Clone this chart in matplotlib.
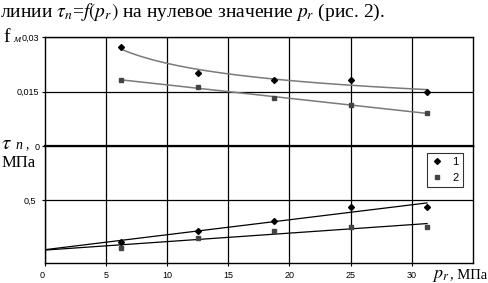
import numpy as np
import matplotlib
matplotlib.use("Agg")
from matplotlib import pyplot as plt

plt.rcParams['font.family'] = ['Liberation Sans', 'DejaVu Sans']
plt.rcParams['mathtext.fontset'] = 'stix'

# pressure p_r, MPa
p_r = [6.25, 12.5, 18.75, 25.0, 31.25]
# friction coefficient f_m
f_m_1 = [0.0272, 0.0201, 0.0182, 0.0182, 0.0149]
f_m_2 = [0.0182, 0.0162, 0.0132, 0.0113, 0.0091]
# shear stress tau_n, MPa
tau_1 = [0.167, 0.254, 0.333, 0.444, 0.444]
tau_2 = [0.119, 0.198, 0.254, 0.286, 0.286]

x_ticks = [0, 5, 10, 15, 20, 25, 30]
series_names = ['1', '2']

fig = plt.figure(figsize=(4.88, 2.83), dpi=100)
ax1 = fig.add_axes([0.092, 0.484, 0.877, 0.385])
ax2 = fig.add_axes([0.092, 0.071, 0.877, 0.413])

x = np.array(p_r)

# ---- top panel: f_m ----
# power trend for series 1, linear trend for series 2
b, lna = np.polyfit(np.log(x), np.log(f_m_1), 1)
xs = np.linspace(x[0], x[-1], 100)
ax1.plot(xs, np.exp(lna) * xs ** b, color='#7a7a7a', lw=1.1, zorder=2)
k, c = np.polyfit(x, f_m_2, 1)
ax1.plot(xs, k * xs + c, color='#7a7a7a', lw=1.1, zorder=2)
ax1.plot(p_r, f_m_1, 'D', color='black', ms=3, zorder=3)
ax1.plot(p_r, f_m_2, 's', color='#444444', ms=3.5, zorder=3)
ax1.set_xlim(0, 35)
ax1.set_ylim(0, 0.03)
ax1.set_yticks([0, 0.015, 0.03])
ax1.set_yticklabels(['0', '0,015', '0,03'])
ax1.set_xticks(x_ticks[1:])
ax1.tick_params(labelbottom=False, length=2, labelsize=6.5, pad=2)
ax1.grid(True, color='black', lw=0.9)

# ---- bottom panel: tau_n ----
xl = np.linspace(0, x[-1], 100)
k1, c1 = np.polyfit(x, tau_1, 1)
k2, c2 = np.polyfit(x, tau_2, 1)
ax2.plot(xl, k1 * xl + c1, color='black', lw=0.9, zorder=2)
ax2.plot(xl, k2 * xl + c2, color='black', lw=0.9, zorder=2)
ax2.plot(p_r, tau_1, 'D', color='black', ms=3, zorder=3, label=series_names[0])
ax2.plot(p_r, tau_2, 's', color='#444444', ms=3.5, zorder=3, label=series_names[1])
ax2.set_xlim(0, 35)
ax2.set_ylim(0, 0.93)
ax2.set_yticks([0.5])
ax2.set_yticklabels(['0,5'])
ax2.set_xticks(x_ticks)
ax2.set_xticklabels([str(t) for t in x_ticks])
ax2.get_xticklabels()[0].set_ha('right')
ax2.tick_params(length=2, labelsize=6.5, pad=4)
ax2.grid(True, color='black', lw=0.9)
leg = ax2.legend(loc='upper right', bbox_to_anchor=(0.99, 0.99), fontsize=8,
                 frameon=True, fancybox=False, edgecolor='black',
                 handletextpad=0.9, borderpad=0.4, labelspacing=0.5,
                 handlelength=1.0)
leg.get_frame().set_linewidth(0.8)

for ax in (ax1, ax2):
    for s in ax.spines.values():
        s.set_linewidth(1.0)
ax1.spines['bottom'].set_linewidth(1.6)

# ---- texts ----
fig.text(0.0, 0.955,
         r"линии $\tau_n$=$f(p_r)$ на нулевое значение $p_r$ (рис. 2).",
         family='Liberation Serif', fontsize=14, va='center', ha='left')
fig.text(0.006, 0.868, 'f', family='Liberation Serif', fontsize=14, va='center')
fig.text(0.027, 0.86, 'м', family='Liberation Serif', fontsize=8,
         style='italic', va='center')
fig.text(0.002, 0.492, r'$\tau$', fontsize=15, va='center')
fig.text(0.031, 0.487, 'n', family='Liberation Serif', fontsize=10,
         style='italic', va='center')
fig.text(0.052, 0.487, ',', family='Liberation Serif', fontsize=10, va='center')
fig.text(0.004, 0.425, 'МПа', family='Liberation Serif', fontsize=12,
         va='center')
fig.text(0.886, 0.028, r'$p_r$', fontsize=13, va='center')
fig.text(0.922, 0.028, ', МПа', family='Liberation Serif', fontsize=10.5,
         va='center')

fig.savefig('out.png', dpi=100)
